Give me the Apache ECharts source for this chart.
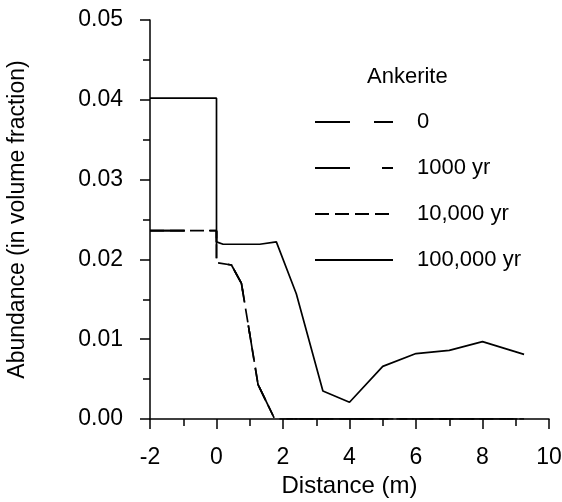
<!DOCTYPE html>
<html>
<head>
<meta charset="utf-8">
<script src="https://cdn.jsdelivr.net/npm/echarts@6/dist/echarts.min.js"></script>
<style>
  html, body { margin: 0; padding: 0; background: #fff; }
  #chart { width: 562px; height: 502px; }
</style>
</head>
<body>
<div id="chart"></div>
<script>
// Ankerite abundance profiles along distance at successive times
const seriesNames = ['0', '1000 yr', '10,000 yr', '100,000 yr'];

// Early-time profiles (0, 1000 yr, 10,000 yr) coincide
const distanceEarly = [-2, 0, 0, 0.45, 0.75, 1.25, 1.75, 3, 4, 5, 6, 7, 8, 9.25];
const abundance0 = [0.0236, 0.0236, 0.0196, 0.0193, 0.0170, 0.0043, 0, 0, 0, 0, 0, 0, 0, 0];
const abundance1k = [0.0236, 0.0236, 0.0196, 0.0193, 0.0170, 0.0043, 0, 0, 0, 0, 0, 0, 0, 0];
const abundance10k = [0.0236, 0.0236, 0.0196, 0.0193, 0.0170, 0.0043, 0, 0, 0, 0, 0, 0, 0, 0];

const distance100k = [-2, 0, 0, 0.2, 1.3, 1.8, 2.4, 3.2, 4, 5, 6, 7, 8, 9.25];
const abundance100k = [0.0402, 0.0402, 0.0222, 0.0219, 0.0219, 0.0222, 0.0157, 0.0035, 0.0021, 0.0066, 0.0082, 0.0086, 0.0097, 0.0081];

const xTicks = [-2, 0, 2, 4, 6, 8, 10];
const yTicks = [0.00, 0.01, 0.02, 0.03, 0.04, 0.05];

const pair = (xs, ys) => xs.map((x, i) => [x, ys[i]]);

const FONT = 'Liberation Sans, Arial, sans-serif';
const chart = echarts.init(document.getElementById('chart'), null, { renderer: 'canvas' });

function lineSeries(name, xs, ys, dash) {
  return {
    name: name,
    type: 'line',
    data: pair(xs, ys),
    symbol: 'none',
    animation: false,
    itemStyle: { color: '#000' },
    lineStyle: { color: '#000', width: 1.7, type: dash }
  };
}

chart.setOption({
  animation: false,
  backgroundColor: '#fff',
  textStyle: { fontFamily: FONT },
  title: {
    text: 'Ankerite',
    left: 362,
    top: 61,
    textStyle: { fontFamily: FONT, fontSize: 22, fontWeight: 'normal', color: '#000' }
  },
  legend: {
    orient: 'vertical',
    left: 309,
    top: 106,
    itemWidth: 78,
    itemHeight: 16,
    itemGap: 24,
    data: seriesNames,
    itemStyle: { opacity: 0 },
    textStyle: { fontFamily: FONT, fontSize: 22, color: '#000', padding: [0, 0, 0, 19] }
  },
  grid: { left: 150, right: 13, top: 20, bottom: 83, containLabel: false, outerBoundsMode: 'none' },
  xAxis: {
    type: 'value',
    min: xTicks[0],
    max: xTicks[xTicks.length - 1],
    interval: 2,
    name: 'Distance (m)',
    nameLocation: 'middle',
    nameGap: 50,
    nameTextStyle: { fontFamily: FONT, fontSize: 24, color: '#000' },
    axisLine: { show: true, onZero: false, lineStyle: { color: '#000', width: 1.5 } },
    axisTick: { show: true, inside: false, length: 10, lineStyle: { color: '#000', width: 1.5 } },
    minorTick: { show: true, splitNumber: 2, length: 7, lineStyle: { color: '#000', width: 1.5 } },
    splitLine: { show: false },
    axisLabel: { margin: 27, fontFamily: FONT, fontSize: 23, color: '#000' }
  },
  yAxis: {
    type: 'value',
    min: yTicks[0],
    max: yTicks[yTicks.length - 1],
    interval: 0.01,
    name: 'Abundance (in volume fraction)',
    nameLocation: 'middle',
    nameGap: 121,
    nameTextStyle: { fontFamily: FONT, fontSize: 23, color: '#000' },
    axisLine: { show: true, onZero: false, lineStyle: { color: '#000', width: 1.5 } },
    axisTick: { show: true, inside: false, length: 10, lineStyle: { color: '#000', width: 1.5 } },
    minorTick: { show: true, splitNumber: 2, length: 7, lineStyle: { color: '#000', width: 1.5 } },
    splitLine: { show: false },
    axisLabel: {
      margin: 27, fontFamily: FONT, fontSize: 23, color: '#000',
      formatter: v => v.toFixed(2)
    }
  },
  series: [
    lineSeries(seriesNames[0], distanceEarly, abundance0, [35, 24]),
    lineSeries(seriesNames[1], distanceEarly, abundance1k, [35, 32, 11, 32]),
    lineSeries(seriesNames[2], distanceEarly, abundance10k, [14, 6]),
    lineSeries(seriesNames[3], distance100k, abundance100k, 'solid')
  ]
});
</script>
</body>
</html>
